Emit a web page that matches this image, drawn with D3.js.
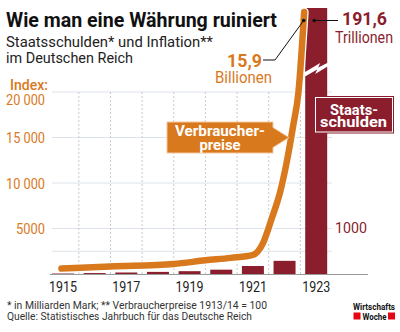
<!DOCTYPE html>
<html>
<head>
<meta charset="utf-8">
<script src="https://cdn.jsdelivr.net/npm/d3@7"></script>
<style>
  html, body { margin: 0; padding: 0; background: #fff; }
  svg { display: block; }
</style>
</head>
<body>
<div id="chart"></div>
<script>
// Reich debt (bars, Milliarden Mark) and consumer price index (line, 1913/14 = 100)
const debtYears = [1915, 1916, 1917, 1918, 1919, 1920, 1921, 1922, 1923];
const debtValues = [10, 20, 32, 45, 60, 92, 170, 280, 191.6e9];   // 1923: 191,6 Trillionen Mark
const priceTimes = [1914.95, 1916.5, 1918.5, 1919.5, 1920.3, 1921.0, 1921.32, 1921.6, 1921.86, 1922.08, 1922.27, 1922.44, 1922.62];
const priceIndex = [600, 830, 1100, 1500, 1770, 2100, 3400, 6150, 9000, 12500, 16250, 20000, 15.9e12];
const yearLabels = [1915, 1917, 1919, 1921, 1923];
const indexTicks = [5000, 10000, 15000, 20000];
const indexGrid = [2500, 5000, 10000, 15000, 20000];
const debtTicks = [1000];

const W = 400, H = 332;
const ORANGE = "#d9791d", DARKRED = "#8a1e2d";
const FONT = "'Liberation Sans Narrow', Roboto, 'Liberation Sans', sans-serif";

const svg = d3.select("#chart").append("svg").attr("width", W).attr("height", H);

const x = d3.scaleLinear().domain([1915, 1923]).range([63, 316.2]);
// broken scales: linear up to the top of the grid, then compressed above it
const yIndex = d3.scaleLinear().domain([0, 20000, 15.9e12]).range([274, 92, 12]);
const yDebt = d3.scaleLinear().domain([0, 1000, 191.6e9]).range([274, 227, 8]);

function label(g, str, px, py, o) {
  const t = g.append("text")
    .attr("x", px).attr("y", py)
    .attr("font-family", o.family || FONT)
    .attr("font-size", o.size)
    .attr("font-weight", o.weight || 400)
    .attr("fill", o.fill || "#222")
    .text(str);
  if (o.width) t.attr("textLength", o.width).attr("lengthAdjust", "spacingAndGlyphs");
  return t;
}

// ---- grid ----
const grid = svg.append("g");
grid.selectAll("line.h").data(indexGrid).join("line")
  .attr("x1", 52).attr("x2", 332)
  .attr("y1", d => yIndex(d)).attr("y2", d => yIndex(d))
  .attr("stroke", "#dde3ea").attr("stroke-width", 1);
grid.selectAll("line.v").data(debtYears.slice(0, -1).map(d => d + 0.5)).join("line")
  .attr("x1", d => x(d)).attr("x2", d => x(d))
  .attr("y1", yIndex(20000)).attr("y2", 274)
  .attr("stroke", "#c9c9c9").attr("stroke-width", 1).attr("stroke-dasharray", "2,2");

// ---- debt bars ----
svg.append("g").selectAll("rect").data(debtYears).join("rect")
  .attr("x", d => x(d) - 11)
  .attr("width", 22)
  .attr("y", (d, i) => yDebt(debtValues[i]))
  .attr("height", (d, i) => 274 - yDebt(debtValues[i]))
  .attr("fill", DARKRED);

// scale break on the 1923 bar
const bx = x(1923);
svg.append("path")
  .attr("d", `M${bx - 12},${77} L${bx + 1},${69.5} L${bx - 1},${74} L${bx + 13},${65.5} L${bx + 13},${62} L${bx + 2},${67.5} L${bx + 4},${63} L${bx - 12},${72.5} Z`)
  .attr("fill", "#fff");

// baseline
svg.append("line").attr("x1", 50).attr("x2", 368).attr("y1", 274.5).attr("y2", 274.5)
  .attr("stroke", "#9a9a9a").attr("stroke-width", 1);

// ---- price index line ----
const line = d3.line()
  .x((d, i) => x(priceTimes[i]))
  .y(d => yIndex(d))
  .curve(d3.curveMonotoneX);
svg.append("path").datum(priceIndex).attr("d", line)
  .attr("fill", "none").attr("stroke", "#fff").attr("stroke-width", 9)
  .attr("stroke-linecap", "round").attr("stroke-linejoin", "round");
svg.append("path").datum(priceIndex).attr("d", line)
  .attr("fill", "none").attr("stroke", ORANGE).attr("stroke-width", 6.5)
  .attr("stroke-linecap", "round").attr("stroke-linejoin", "round");

// ---- axis labels ----
const axes = svg.append("g");
label(axes, "Index:", 10, 90, { size: 15, weight: 500, fill: ORANGE, width: 38 });
indexTicks.forEach(v => {
  const w = v >= 10000 ? 39 : 29;
  const py = v === 20000 ? 104.5 : yIndex(v) + 5.5;
  label(axes, v >= 10000 ? d3.format(",")(v).replace(",", " ") : String(v), 45 - w, py,
        { size: 15, fill: ORANGE, width: w });
});
debtTicks.forEach(v => {
  label(axes, String(v), 335, yDebt(v) + 5.5, { size: 15, fill: DARKRED, width: 32 });
});
yearLabels.forEach(yr => {
  label(axes, String(yr), x(yr) - 14, 291.5, { size: 14, fill: "#222", width: 28 });
});

// ---- series boxes ----
const pb = svg.append("g");
pb.append("path")
  .attr("d", "M167,122 L273,122 L273,127.5 L289,137.5 L273,147.5 L273,153 L167,153 Z")
  .attr("fill", ORANGE).attr("stroke", "#f4c9a0").attr("stroke-width", 1);
label(pb, "Verbraucher-", 175, 136, { size: 14.5, weight: 700, fill: "#fff", width: 90 });
label(pb, "preise", 199.5, 149.5, { size: 14.5, weight: 700, fill: "#fff", width: 41 });

const db = svg.append("g");
db.append("rect").attr("x", 314).attr("y", 96).attr("width", 80).attr("height", 37.5)
  .attr("fill", DARKRED);
db.append("rect").attr("x", 315.5).attr("y", 97.5).attr("width", 77).attr("height", 34.5)
  .attr("fill", "none").attr("stroke", "#fff").attr("stroke-width", 1);
label(db, "Staats-", 330, 115, { size: 14.5, weight: 700, fill: "#fff", width: 48 });
label(db, "schulden", 320, 127, { size: 14.5, weight: 700, fill: "#fff", width: 67 });

// ---- end values ----
const lastT = priceTimes[priceTimes.length - 1];
const lastP = priceIndex[priceIndex.length - 1];
const lastD = debtValues[debtValues.length - 1];
const ann = svg.append("g");
const pDot = [x(lastT) - 0.5, 20.5];
const dDot = [x(1923) - 2, 20.5];
ann.append("path").attr("d", `M263,60 L275,60 L${pDot[0]},${pDot[1]}`)
  .attr("fill", "none").attr("stroke", "#111").attr("stroke-width", 1);
ann.append("path").attr("d", `M${dDot[0]},${dDot[1]} L338,${dDot[1]}`)
  .attr("fill", "none").attr("stroke", "#111").attr("stroke-width", 1);
ann.append("circle").attr("cx", pDot[0]).attr("cy", pDot[1]).attr("r", 1.8).attr("fill", "#111");
ann.append("circle").attr("cx", dDot[0]).attr("cy", dDot[1]).attr("r", 1.8).attr("fill", "#111");

const fmtDe = v => d3.format(".1f")(v).replace(".", ",");
label(ann, fmtDe(lastP / 1e12), 227, 66.5, { size: 19, weight: 700, fill: ORANGE, width: 35 });
label(ann, "Billionen", 215, 83, { size: 17, fill: ORANGE, width: 57 });
label(ann, fmtDe(lastD / 1e9), 342, 25, { size: 19, weight: 700, fill: DARKRED, width: 45 });
label(ann, "Trillionen", 335, 43, { size: 16.5, fill: DARKRED, width: 58 });

// ---- titles ----
label(svg, "Wie man eine Währung ruiniert", 6, 27, { size: 21, weight: 700, fill: "#111", width: 271 });
label(svg, "Staatsschulden* und Inflation**", 6, 46.5, { size: 15, fill: "#222", width: 207 });
label(svg, "im Deutschen Reich", 6, 63, { size: 15, fill: "#222", width: 127 });

// ---- footnotes ----
label(svg, "* in Milliarden Mark; ** Verbraucherpreise 1913/14 = 100", 7, 308.5, { size: 11, fill: "#333", width: 260 });
label(svg, "Quelle: Statistisches Jahrbuch für das Deutsche Reich", 7, 319.5, { size: 11, fill: "#333", width: 245 });

// ---- publisher mark ----
const logo = svg.append("g");
label(logo, "Wirtschafts", 353, 310, { size: 9.5, weight: 700, fill: "#111", width: 42 });
logo.append("rect").attr("x", 353.5).attr("y", 312.5).attr("width", 7).attr("height", 7).attr("fill", "#e30613");
logo.append("rect").attr("x", 388).attr("y", 312.5).attr("width", 7).attr("height", 7).attr("fill", "#e30613");
label(logo, "Woche", 362.5, 319.5, { size: 9.5, weight: 700, fill: "#111", width: 24 });
</script>
</body>
</html>
